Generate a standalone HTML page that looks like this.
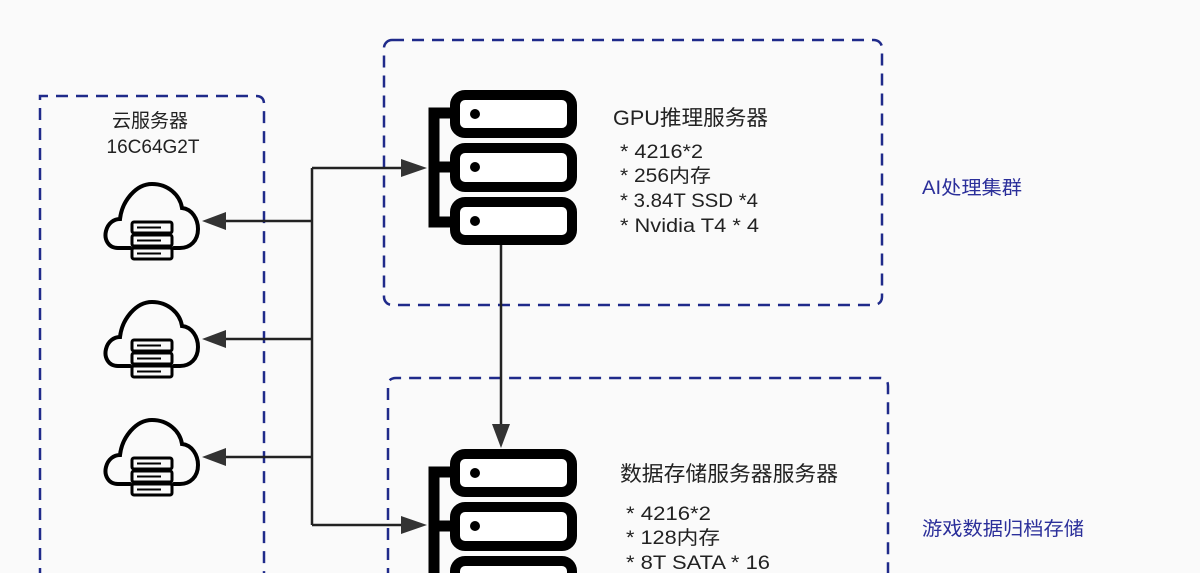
<!DOCTYPE html>
<html><head><meta charset="utf-8"><style>
html,body{margin:0;padding:0;background:#fafafa;}
svg{display:block}
text{font-family:"Liberation Sans","Noto Sans CJK SC",sans-serif;}
</style></head><body>
<svg width="1200" height="573" viewBox="0 0 1200 573" xmlns="http://www.w3.org/2000/svg">
<defs>
<g id="srv">
  <rect x="455" y="95" width="117" height="38" rx="10" fill="#fff" stroke="#000" stroke-width="10"/>
  <rect x="455" y="148" width="117" height="39" rx="10" fill="#fff" stroke="#000" stroke-width="10"/>
  <rect x="455" y="202" width="117" height="38" rx="10" fill="#fff" stroke="#000" stroke-width="10"/>
  <path d="M452 113 H434 V222 H452 M434 167 H452" fill="none" stroke="#000" stroke-width="11"/>
  <circle cx="475" cy="114" r="5"/><circle cx="475" cy="167" r="5"/><circle cx="475" cy="221" r="5"/>
</g>
<g id="cloud">
  <path d="M30 73 H18 C8 73 4 64 6 56 C8 48 14 44 20 44 C22 26 36 9 52 9 C68 9 80 20 82 33 C92 34 98 44 98 54 C98 66 90 73 80 73 H74" fill="none" stroke="#000" stroke-width="4" stroke-linecap="round"/>
  <g fill="none" stroke="#000" stroke-width="3">
    <rect x="32" y="47" width="40" height="11" rx="2"/>
    <rect x="32" y="60" width="40" height="11" rx="2"/>
    <rect x="32" y="73" width="40" height="11" rx="2"/>
  </g>
  <g stroke="#000" stroke-width="2"><path d="M37 52.5H61M37 65.5H61M37 78.5H61"/></g>
</g>
</defs>

<g fill="none" stroke="#1f2a8a" stroke-width="2.5" stroke-dasharray="12 8">
  <path d="M40 600 V96 H256 Q264 96 264 104 V600"/>
  <rect x="384" y="40" width="498" height="265" rx="8"/>
  <path d="M388 600 V386 Q388 378 396 378 H880 Q888 378 888 386 V600"/>
</g>

<g stroke="#222" stroke-width="2.5" fill="none">
  <path d="M312 168 V525"/>
  <path d="M312 168 H410"/>
  <path d="M312 525 H410"/>
  <path d="M312 221 H220"/>
  <path d="M312 339 H220"/>
  <path d="M312 457 H220"/>
  <path d="M501 245 V428"/>
</g>
<g fill="#333">
  <path d="M427 168 L401 159 L401 177 Z"/>
  <path d="M427 525 L401 516 L401 534 Z"/>
  <path d="M202 221 L226 212 L226 230 Z"/>
  <path d="M202 339 L226 330 L226 348 Z"/>
  <path d="M202 457 L226 448 L226 466 Z"/>
  <path d="M501 448 L492 424 L510 424 Z"/>
</g>

<use href="#srv"/>
<use href="#srv" transform="translate(0,359)"/>

<use href="#cloud" transform="translate(100,175)"/>
<use href="#cloud" transform="translate(100,293)"/>
<use href="#cloud" transform="translate(100,411)"/>

<g fill="#222">
  <text x="150" y="127" font-size="19" text-anchor="middle">云服务器</text>
  <text x="153" y="153" font-size="19" text-anchor="middle">16C64G2T</text>
  <text x="613" y="125" font-size="21" textLength="155" lengthAdjust="spacingAndGlyphs">GPU推理服务器</text>
  <text x="620" y="158" font-size="19" textLength="83" lengthAdjust="spacingAndGlyphs">* 4216*2</text>
  <text x="620" y="182" font-size="19" textLength="91" lengthAdjust="spacingAndGlyphs">* 256内存</text>
  <text x="620" y="207" font-size="19" textLength="138" lengthAdjust="spacingAndGlyphs">* 3.84T SSD *4</text>
  <text x="620" y="232" font-size="19" textLength="139" lengthAdjust="spacingAndGlyphs">* Nvidia T4 * 4</text>
  <text x="620" y="481" font-size="21" textLength="218" lengthAdjust="spacingAndGlyphs">数据存储服务器服务器</text>
  <text x="626" y="520" font-size="19" textLength="85" lengthAdjust="spacingAndGlyphs">* 4216*2</text>
  <text x="626" y="544" font-size="19" textLength="94" lengthAdjust="spacingAndGlyphs">* 128内存</text>
  <text x="626" y="569" font-size="19" textLength="144" lengthAdjust="spacingAndGlyphs">* 8T SATA * 16</text>
</g>
<text x="922" y="194" font-size="19" fill="#2b2f9a" textLength="100" lengthAdjust="spacingAndGlyphs">AI处理集群</text>
<text x="922" y="535" font-size="19" fill="#2b2f9a" textLength="162" lengthAdjust="spacingAndGlyphs">游戏数据归档存储</text>
</svg>
</body></html>
